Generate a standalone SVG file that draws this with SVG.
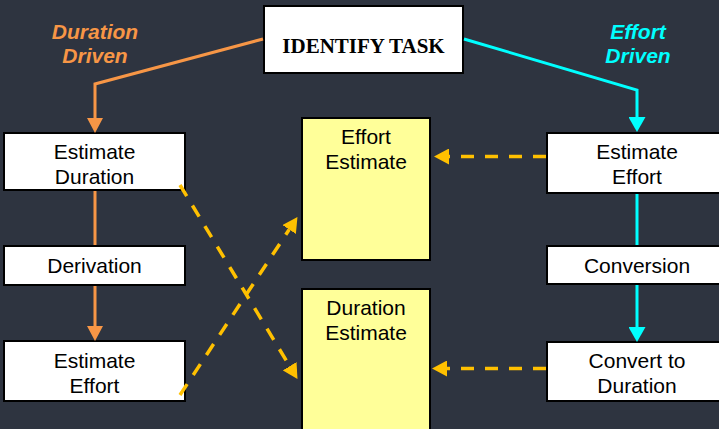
<svg xmlns="http://www.w3.org/2000/svg" width="719" height="429" viewBox="0 0 719 429">
  <defs>
    <style>
      .box { fill: #ffffff; stroke: #000000; stroke-width: 2; }
      .note { fill: #ffff99; stroke: #000000; stroke-width: 2; }
      .lbl { font-family: "Liberation Sans", Arial, sans-serif; font-size: 21px; fill: #000000; text-anchor: middle; }
      .title { font-family: "Liberation Serif", "Times New Roman", serif; font-size: 21px; font-weight: bold; fill: #000000; text-anchor: middle; }
      .side { font-family: "Liberation Sans", Arial, sans-serif; font-size: 21px; font-weight: bold; font-style: italic; text-anchor: middle; }
      .orange { fill: none; stroke: #f79646; stroke-width: 3; }
      .cyan { fill: none; stroke: #00ffff; stroke-width: 3; }
      .dash { fill: none; stroke: #ffc000; stroke-width: 3.5; stroke-dasharray: 13 11; }
    </style>
    <marker id="arrOrange" viewBox="0 0 15 16" refX="0" refY="8" markerWidth="15" markerHeight="16" markerUnits="userSpaceOnUse" orient="auto">
      <path d="M0,0 L15,8 L0,16 z" fill="#f79646"/>
    </marker>
    <marker id="arrCyan" viewBox="0 0 15 17" refX="0" refY="8.5" markerWidth="15" markerHeight="17" markerUnits="userSpaceOnUse" orient="auto">
      <path d="M0,0 L15,8.5 L0,17 z" fill="#00ffff"/>
    </marker>
    <marker id="arrGold" viewBox="0 0 15 16" refX="0" refY="8" markerWidth="15" markerHeight="16" markerUnits="userSpaceOnUse" orient="auto">
      <path d="M0,0 L15,8 L0,16 z" fill="#ffc000"/>
    </marker>
  </defs>

  <rect x="0" y="0" width="719" height="429" fill="#2e3440"/>

  <!-- branch labels -->
  <g id="label-duration-driven" class="side" fill="#f79646">
    <text x="95" y="39">Duration</text>
    <text x="95" y="63">Driven</text>
  </g>
  <g id="label-effort-driven" class="side" fill="#00ffff">
    <text x="638" y="39">Effort</text>
    <text x="638" y="63">Driven</text>
  </g>

  <!-- top task -->
  <g id="identify-task">
    <rect class="box" x="264" y="6" width="199" height="67" stroke-width="2.5"/>
    <text class="title" x="363.5" y="53">IDENTIFY TASK</text>
  </g>

  <!-- duration-driven column -->
  <g id="estimate-duration">
    <rect class="box" x="4" y="133" width="181" height="57"/>
    <text class="lbl" x="94.5" y="159">Estimate</text>
    <text class="lbl" x="94.5" y="184">Duration</text>
  </g>
  <g id="derivation">
    <rect class="box" x="4" y="246" width="181" height="39"/>
    <text class="lbl" x="94.5" y="273">Derivation</text>
  </g>
  <g id="estimate-effort-left">
    <rect class="box" x="4" y="341" width="181" height="60"/>
    <text class="lbl" x="94.5" y="368">Estimate</text>
    <text class="lbl" x="94.5" y="393">Effort</text>
  </g>

  <!-- estimate results -->
  <g id="effort-estimate">
    <rect class="note" x="302" y="118" width="128" height="142"/>
    <text class="lbl" x="366" y="144">Effort</text>
    <text class="lbl" x="366" y="169">Estimate</text>
  </g>
  <g id="duration-estimate">
    <rect class="note" x="302" y="289" width="128" height="150"/>
    <text class="lbl" x="366" y="315">Duration</text>
    <text class="lbl" x="366" y="340">Estimate</text>
  </g>

  <!-- effort-driven column -->
  <g id="estimate-effort-right">
    <rect class="box" x="547" y="133" width="180" height="60"/>
    <text class="lbl" x="637" y="159">Estimate</text>
    <text class="lbl" x="637" y="184">Effort</text>
  </g>
  <g id="conversion">
    <rect class="box" x="547" y="246" width="180" height="38"/>
    <text class="lbl" x="637" y="273">Conversion</text>
  </g>
  <g id="convert-to-duration">
    <rect class="box" x="547" y="342" width="180" height="59"/>
    <text class="lbl" x="637" y="368">Convert to</text>
    <text class="lbl" x="637" y="393">Duration</text>
  </g>

  <!-- connectors, drawn over the box corners they leave from -->
  <g id="connectors">
    <path class="orange" d="M263,39 L95,84 L95,118" marker-end="url(#arrOrange)"/>
    <path class="orange" d="M95,191 L95,245"/>
    <path class="orange" d="M95,286 L95,326" marker-end="url(#arrOrange)"/>

    <path class="cyan" d="M464,39 L637,90 L637,117" marker-end="url(#arrCyan)"/>
    <path class="cyan" d="M637,194 L637,245"/>
    <path class="cyan" d="M637,285 L637,327" marker-end="url(#arrCyan)"/>

    <path class="dash" d="M546,156.5 L449,156.5" marker-end="url(#arrGold)"/>
    <path class="dash" d="M546,368.5 L447,368.5" marker-end="url(#arrGold)"/>
    <path class="dash" d="M180,185 L289.7,366.2" marker-end="url(#arrGold)"/>
    <path class="dash" d="M180,395 L289.2,229.5" marker-end="url(#arrGold)"/>
  </g>
</svg>
